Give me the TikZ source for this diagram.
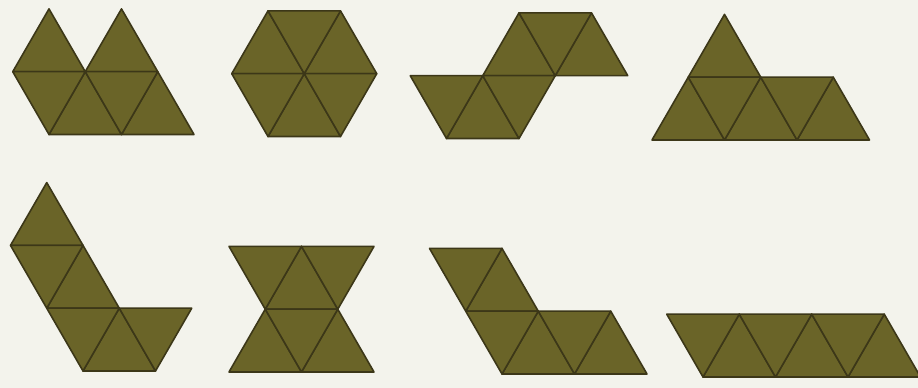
\documentclass[tikz,border=0pt]{standalone}
\definecolor{paper}{RGB}{243,243,236}
\definecolor{piece}{RGB}{106,100,40}
\definecolor{seam}{RGB}{60,55,24}
% one hexiamond: origin x, origin y, up triangles, down triangles
\newcommand{\hexi}[4]{%
  \begin{scope}[shift={(#1pt,#2pt)}, x={(72.5pt,0pt)}, y={(36.25pt,62.8pt)}]
    \foreach \i/\j in {#3} \filldraw[tri] (\i,\j) -- ++(1,0) -- ++(-1,1) -- cycle;
    \foreach \i/\j in {#4} \filldraw[tri] (\i+1,\j) -- ++(0,1) -- ++(-1,0) -- cycle;
  \end{scope}}
\begin{document}
\begin{tikzpicture}[
    x=1pt, y=1pt,
    tri/.style={fill=piece, draw=seam, line width=1.6pt, line join=round}
]
    \fill[paper] (0,0) rectangle (918,388);
    \clip (0,0) rectangle (918,388);
    % top row
    \hexi{49}{253.5}{0/0,1/0,-1/1,0/1}{-1/0,0/0}
    \hexi{268}{251.5}{0/0,-1/1,0/1}{-1/0,0/0,-1/1}
    \hexi{446.5}{249.5}{0/0,0/1,1/1}{-1/0,0/0,0/1}
    \hexi{652}{248}{0/0,1/0,2/0,0/1}{0/0,1/0}
    % bottom row
    \hexi{83}{17}{0/0,-1/1,-2/2}{-1/0,0/0,-2/1}
    \hexi{229}{16}{0/0,1/0,0/1}{0/0,-1/1,0/1}
    \hexi{502}{14}{0/0,1/0,-1/1}{-1/0,0/0,-2/1}
    \hexi{703}{11}{0/0,1/0,2/0}{-1/0,0/0,1/0}
\end{tikzpicture}
\end{document}
